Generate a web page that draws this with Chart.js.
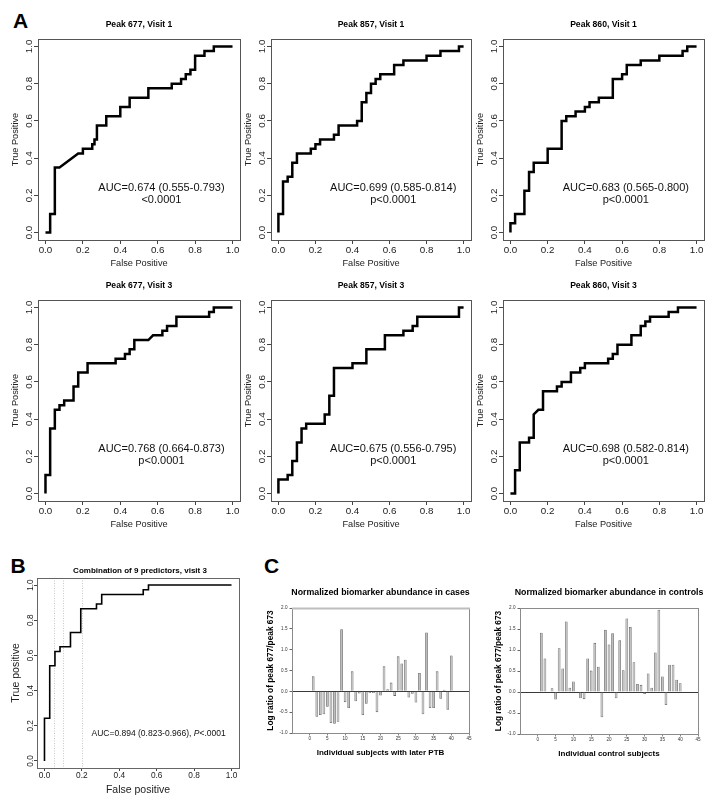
<!DOCTYPE html>
<html>
<head>
<meta charset="utf-8">
<script src="https://cdn.jsdelivr.net/npm/chart.js@4/dist/chart.umd.min.js"></script>
<style>
html,body{margin:0;padding:0;background:#fff;}
body{width:715px;height:806px;position:relative;overflow:hidden;font-family:"Liberation Sans",Arial,Helvetica,sans-serif;}
canvas{position:absolute;}
.lbl{position:absolute;font-weight:bold;font-size:21px;line-height:1;color:#000;}
</style>
</head>
<body>
<div class="lbl" style="left:13px;top:9.5px">A</div>
<div class="lbl" style="left:10.5px;top:555px">B</div>
<div class="lbl" style="left:264px;top:555px">C</div>
<script>
// ================= DATA =================
const rocTicks = [0, 0.2, 0.4, 0.6, 0.8, 1.0];

// Panel A: ROC stair paths (false positive / true positive vertices)
const p677v1Fpr = [0,0.025,0.025,0.05,0.05,0.075,0.175,0.2,0.2,0.25,0.25,0.262,0.262,0.275,0.275,0.325,0.325,0.4,0.4,0.45,0.45,0.55,0.55,0.675,0.675,0.725,0.725,0.75,0.75,0.775,0.775,0.8,0.8,0.85,0.85,0.9,0.9,1.0];
const p677v1Tpr = [0,0,0.1,0.1,0.35,0.35,0.425,0.425,0.45,0.45,0.475,0.475,0.5,0.5,0.575,0.575,0.625,0.625,0.675,0.675,0.725,0.725,0.775,0.775,0.8,0.8,0.825,0.825,0.85,0.85,0.875,0.875,0.95,0.95,0.975,0.975,1.0,1.0];

const p857v1Fpr = [0,0,0.025,0.025,0.05,0.05,0.075,0.075,0.1,0.1,0.175,0.175,0.2,0.2,0.225,0.225,0.3,0.3,0.325,0.325,0.425,0.425,0.45,0.45,0.475,0.475,0.5,0.5,0.525,0.525,0.55,0.55,0.625,0.625,0.675,0.675,0.8,0.8,0.875,0.875,0.975,0.975,1.0];
const p857v1Tpr = [0,0.1,0.1,0.275,0.275,0.3,0.3,0.375,0.375,0.425,0.425,0.45,0.45,0.475,0.475,0.5,0.5,0.525,0.525,0.575,0.575,0.6,0.6,0.7,0.7,0.75,0.75,0.8,0.8,0.825,0.825,0.85,0.85,0.9,0.9,0.925,0.925,0.95,0.95,0.975,0.975,1.0,1.0];

const p860v1Fpr = [0,0,0.025,0.025,0.075,0.075,0.1,0.1,0.125,0.125,0.2,0.2,0.275,0.275,0.3,0.3,0.35,0.35,0.4,0.4,0.425,0.425,0.475,0.475,0.55,0.55,0.6,0.6,0.625,0.625,0.7,0.7,0.8,0.8,0.925,0.925,0.95,0.95,1.0];
const p860v1Tpr = [0,0.05,0.05,0.1,0.1,0.225,0.225,0.325,0.325,0.375,0.375,0.45,0.45,0.6,0.6,0.625,0.625,0.65,0.65,0.675,0.675,0.7,0.7,0.725,0.725,0.825,0.825,0.85,0.85,0.9,0.9,0.925,0.925,0.95,0.95,0.975,0.975,1.0,1.0];

const p677v3Fpr = [0,0,0.025,0.025,0.05,0.05,0.075,0.075,0.1,0.1,0.15,0.15,0.175,0.175,0.225,0.225,0.375,0.375,0.425,0.425,0.45,0.45,0.475,0.475,0.55,0.575,0.625,0.625,0.65,0.65,0.7,0.7,0.875,0.875,0.9,0.9,1.0];
const p677v3Tpr = [0,0.1,0.1,0.35,0.35,0.45,0.45,0.475,0.475,0.5,0.5,0.575,0.575,0.65,0.65,0.7,0.7,0.725,0.725,0.75,0.75,0.775,0.775,0.825,0.825,0.85,0.85,0.875,0.875,0.9,0.9,0.95,0.95,0.975,0.975,1.0,1.0];

const p857v3Fpr = [0,0,0.05,0.05,0.075,0.075,0.1,0.1,0.125,0.125,0.15,0.15,0.25,0.25,0.275,0.275,0.3,0.3,0.4,0.4,0.475,0.475,0.575,0.575,0.675,0.675,0.725,0.725,0.75,0.75,0.975,0.975,1.0];
const p857v3Tpr = [0,0.075,0.075,0.1,0.1,0.175,0.175,0.275,0.275,0.35,0.35,0.375,0.375,0.425,0.425,0.525,0.525,0.675,0.675,0.7,0.7,0.775,0.775,0.85,0.85,0.875,0.875,0.9,0.9,0.95,0.95,1.0,1.0];

const p860v3Fpr = [0,0.025,0.025,0.05,0.05,0.1,0.1,0.125,0.125,0.15,0.175,0.175,0.25,0.25,0.275,0.275,0.325,0.325,0.375,0.375,0.4,0.4,0.525,0.525,0.55,0.55,0.575,0.575,0.65,0.65,0.7,0.7,0.725,0.725,0.75,0.75,0.85,0.85,0.9,0.9,1.0];
const p860v3Tpr = [0,0,0.125,0.125,0.275,0.275,0.3,0.3,0.425,0.45,0.45,0.55,0.55,0.575,0.575,0.6,0.6,0.65,0.65,0.675,0.675,0.7,0.7,0.725,0.725,0.75,0.75,0.8,0.8,0.85,0.85,0.9,0.9,0.925,0.925,0.95,0.95,0.975,0.975,1.0,1.0];

// Panel B: combination of 9 predictors
const comboFpr = [0,0,0.028,0.028,0.056,0.056,0.083,0.083,0.139,0.139,0.194,0.194,0.278,0.278,0.306,0.306,0.528,0.528,0.556,0.556,1.0];
const comboTpr = [0,0.243,0.243,0.541,0.541,0.622,0.622,0.649,0.649,0.73,0.73,0.865,0.865,0.892,0.892,0.946,0.946,0.973,0.973,1.0,1.0];
const comboGuides = [0.05, 0.1, 0.2];

// Panel C: log ratio of peak 677 / peak 673 per subject
const subjects = [1,2,3,4,5,6,7,8,9,10,11,12,13,14,15,16,17,18,19,20,21,22,23,24,25,26,27,28,29,30,31,32,33,34,35,36,37,38,39,40];
const casesRatio = [0.36,-0.61,-0.57,-0.55,-0.37,-0.76,-0.78,-0.73,1.49,-0.26,-0.40,0.48,-0.24,-0.05,-0.57,-0.30,-0.04,-0.04,-0.50,-0.10,0.60,0.05,0.21,-0.11,0.84,0.67,0.76,-0.15,-0.06,-0.27,0.44,-0.55,1.41,-0.40,-0.40,0.48,-0.18,0.04,-0.44,0.86];
const controlsRatio = [1.41,0.80,null,0.09,-0.18,1.04,0.56,1.68,0.10,0.25,null,-0.15,-0.17,0.80,0.51,1.17,0.60,-0.60,1.48,1.13,1.40,-0.15,1.23,0.52,1.75,1.55,0.71,0.19,0.17,-0.05,0.44,0.10,0.94,1.96,0.37,-0.31,0.65,0.65,0.29,0.21];
const barXTicks = [0,5,10,15,20,25,30,35,40,45];

// ================= HELPERS =================
const FONT = '"Liberation Sans", Arial, Helvetica, sans-serif';
function zip(xs, ys) { return xs.map((x, i) => ({x: x, y: ys[i]})); }
function place(box, m) {
  const c = document.createElement('canvas');
  const w = box[2] - box[0] + m.l + m.r, h = box[3] - box[1] + m.t + m.b;
  c.width = w; c.height = h;
  c.style.left = (box[0] - m.l) + 'px'; c.style.top = (box[1] - m.t) + 'px';
  c.style.width = w + 'px'; c.style.height = h + 'px';
  document.body.appendChild(c);
  return c;
}
function drawText(ctx, txt, x, y, font, color, rot) {
  ctx.save();
  ctx.font = font; ctx.fillStyle = color || '#000';
  ctx.textAlign = 'center'; ctx.textBaseline = 'middle';
  ctx.translate(x, y);
  if (rot) ctx.rotate(rot);
  ctx.fillText(txt, 0, 0);
  ctx.restore();
}
function drawRuns(ctx, runs, cx, y, color) {
  ctx.save();
  ctx.fillStyle = color; ctx.textBaseline = 'middle'; ctx.textAlign = 'left';
  let total = 0;
  runs.forEach(r => { ctx.font = r[1]; total += ctx.measureText(r[0]).width; });
  let x = cx - total / 2;
  runs.forEach(r => { ctx.font = r[1]; ctx.fillText(r[0], x, y); x += ctx.measureText(r[0]).width; });
  ctx.restore();
}

const decoPlugin = {
  id: 'deco',
  beforeDatasetsDraw(chart, args, o) {
    const ctx = chart.ctx, a = chart.chartArea;
    if (o.guides) {
      ctx.save();
      ctx.strokeStyle = o.guideColor; ctx.lineWidth = 1; ctx.setLineDash([1, 1.5]);
      o.guides.forEach(v => {
        const px = Math.round(chart.scales.x.getPixelForValue(v)) + 0.5;
        ctx.beginPath(); ctx.moveTo(px, a.top); ctx.lineTo(px, a.bottom); ctx.stroke();
      });
      ctx.restore();
    }
  },
  afterDraw(chart, args, o) {
    const ctx = chart.ctx, a = chart.chartArea;
    const cx = (a.left + a.right) / 2, cy = (a.top + a.bottom) / 2;
    ctx.save();
    ctx.strokeStyle = o.boxColor; ctx.lineWidth = o.boxWidth;
    ctx.strokeRect(a.left + 0.5, a.top + 0.5, a.right - a.left, a.bottom - a.top);
    if (o.topColor) {
      ctx.strokeStyle = o.topColor; ctx.lineWidth = o.topWidth;
      ctx.beginPath(); ctx.moveTo(a.left, a.top + 0.5); ctx.lineTo(a.right + 1, a.top + 0.5); ctx.stroke();
    }
    ctx.restore();
    drawText(ctx, o.title, cx + (o.titleDx || 0), a.top + o.titleDy, o.titleFont, '#000');
    drawText(ctx, o.xTitle, cx + (o.xTitleDx || 0), a.bottom + o.xTitleDy, o.xTitleFont, o.textColor);
    drawText(ctx, o.yTitle, a.left + o.yTitleDx, cy, o.yTitleFont, o.textColor, -Math.PI / 2);
    if (o.rotYTicks) {
      const ys = chart.scales.y;
      ys.ticks.forEach(t => {
        drawText(ctx, Number(t.value).toFixed(1), a.left + o.yTickDx, ys.getPixelForValue(t.value), o.yTickFont, o.textColor, -Math.PI / 2);
      });
    }
    if (o.auc) {
      const px = chart.scales.x.getPixelForValue(o.aucX);
      const py = chart.scales.y.getPixelForValue(o.aucY);
      o.auc.forEach((line, i) => drawRuns(ctx, line, px, py + i * o.aucGap, o.aucColor));
    }
  }
};

// ================= ROC PANELS =================
const styleA = {
  m: {l: 32, t: 24, r: 10, b: 32}, lineWidth: 2.5, tick: 4, tickPad: 0, tickSize: 9.8,
  deco: {
    boxColor: '#555', boxWidth: 1, textColor: '#222',
    titleDy: -14.5, titleFont: 'bold 8.6px ' + FONT,
    xTitle: 'False Positive', xTitleDy: 23.5, xTitleFont: '9.2px ' + FONT,
    yTitle: 'True Positive', yTitleDx: -22.5, yTitleFont: '9.2px ' + FONT,
    rotYTicks: true, yTickDx: -8.8, yTickFont: '9.8px ' + FONT,
    aucX: 0.62, aucY: 0.24, aucGap: 12.5, aucColor: '#111'
  }
};
const styleB = {
  m: {l: 32, t: 16, r: 6, b: 34}, lineWidth: 1.6, tick: 3, tickPad: 0, tickSize: 8.3,
  deco: {
    boxColor: '#666', boxWidth: 1, textColor: '#222',
    titleDy: -7.7, titleDx: 2, titleFont: 'bold 8px ' + FONT,
    xTitle: 'False positive', xTitleDy: 22, xTitleFont: '10.5px ' + FONT,
    yTitle: 'True positive', yTitleDx: -20.6, yTitleFont: '10.5px ' + FONT,
    rotYTicks: true, yTickDx: -6.3, yTickFont: '8.3px ' + FONT,
    aucX: 0.61, aucY: 0.155, aucGap: 0, aucColor: '#111',
    guides: comboGuides, guideColor: '#c8c8c8'
  }
};

const aucFontA = '11px ' + FONT;
const rocPanels = [
  {box: [38, 39, 240, 240], title: 'Peak 677, Visit 1', fpr: p677v1Fpr, tpr: p677v1Tpr, auc: ['AUC=0.674 (0.555-0.793)', '<0.0001']},
  {box: [271, 39, 471, 240], title: 'Peak 857, Visit 1', fpr: p857v1Fpr, tpr: p857v1Tpr, auc: ['AUC=0.699 (0.585-0.814)', 'p<0.0001']},
  {box: [503, 39, 704, 240], title: 'Peak 860, Visit 1', fpr: p860v1Fpr, tpr: p860v1Tpr, auc: ['AUC=0.683 (0.565-0.800)', 'p<0.0001']},
  {box: [38, 300, 240, 501], title: 'Peak 677, Visit 3', fpr: p677v3Fpr, tpr: p677v3Tpr, auc: ['AUC=0.768 (0.664-0.873)', 'p<0.0001']},
  {box: [271, 300, 471, 501], title: 'Peak 857, Visit 3', fpr: p857v3Fpr, tpr: p857v3Tpr, auc: ['AUC=0.675 (0.556-0.795)', 'p<0.0001']},
  {box: [503, 300, 704, 501], title: 'Peak 860, Visit 3', fpr: p860v3Fpr, tpr: p860v3Tpr, auc: ['AUC=0.698 (0.582-0.814)', 'p<0.0001']}
];

function rocChart(box, title, fpr, tpr, aucRuns, st) {
  const m = st.m;
  const c = place(box, m);
  const axisTicks = s => { s.ticks = rocTicks.map(v => ({value: v})); };
  new Chart(c, {
    type: 'scatter',
    data: {datasets: [{data: zip(fpr, tpr), showLine: true, borderColor: '#000', backgroundColor: '#000',
      borderWidth: st.lineWidth, pointRadius: 0, pointHoverRadius: 0, tension: 0, fill: false,
      borderJoinStyle: 'miter', borderCapStyle: 'butt'}]},
    options: {
      responsive: false, animation: false, devicePixelRatio: 1, events: [],
      layout: {padding: {top: m.t, right: m.r, left: 0, bottom: 0}},
      plugins: {legend: {display: false}, tooltip: {enabled: false},
        deco: Object.assign({}, st.deco, {title: title, auc: aucRuns})},
      scales: {
        x: {type: 'linear', min: -0.04, max: 1.04, afterBuildTicks: axisTicks, afterFit: s => { s.height = m.b; },
          grid: {drawOnChartArea: false, drawTicks: true, tickLength: st.tick, color: '#444', lineWidth: 1},
          border: {display: false},
          ticks: {color: '#222', font: {family: FONT, size: st.tickSize}, padding: st.tickPad, maxRotation: 0, minRotation: 0, autoSkip: false,
            callback: v => Number(v).toFixed(1)}},
        y: {type: 'linear', min: -0.04, max: 1.04, afterBuildTicks: axisTicks, afterFit: s => { s.width = m.l; },
          grid: {drawOnChartArea: false, drawTicks: true, tickLength: st.tick, color: '#444', lineWidth: 1},
          border: {display: false},
          ticks: {display: false}}
      }
    },
    plugins: [decoPlugin]
  });
}

rocPanels.forEach(p => {
  rocChart(p.box, p.title, p.fpr, p.tpr, p.auc.map(t => [[t, aucFontA]]), styleA);
});
rocChart([37, 578, 239, 768], 'Combination of 9 predictors, visit 3', comboFpr, comboTpr,
  [[['AUC=0.894 (0.823-0.966), ', '8.5px ' + FONT], ['P', 'italic 8.5px ' + FONT], ['<.0001', '8.5px ' + FONT]]], styleB);

// ================= BAR PANELS =================
function barChart(box, title, xTitle, values, extra) {
  const m = {l: 30, t: 22, r: 8, b: 26};
  const c = place(box, m);
  new Chart(c, {
    type: 'bar',
    data: {datasets: [{data: zip(subjects, values), backgroundColor: '#bdbdbd', borderColor: '#666', borderWidth: 0.8,
      barPercentage: 0.8, categoryPercentage: 0.95}]},
    options: {
      responsive: false, animation: false, devicePixelRatio: 1, events: [],
      layout: {padding: {top: m.t, right: m.r, left: 0, bottom: 0}},
      plugins: {legend: {display: false}, tooltip: {enabled: false},
        deco: Object.assign({
          boxColor: '#8a8a8a', boxWidth: 1, textColor: '#000',
          title: title, titleDy: -15.5, titleFont: 'bold 8.8px ' + FONT,
          xTitle: xTitle, xTitleDy: 19.3, xTitleFont: 'bold 8px ' + FONT,
          yTitle: 'Log ratio of peak 677/peak 673', yTitleDx: -21.3, yTitleFont: 'bold 8.3px ' + FONT
        }, extra)},
      scales: {
        x: {type: 'linear', min: -5, max: 45, offset: false,
          afterBuildTicks: s => { s.ticks = barXTicks.map(v => ({value: v})); }, afterFit: s => { s.height = m.b; },
          grid: {offset: false, drawOnChartArea: false, drawTicks: true, tickLength: 2.5, color: '#666', lineWidth: 0.8},
          border: {display: false},
          ticks: {color: '#333', font: {family: FONT, size: 4.6}, padding: 0.8, maxRotation: 0, minRotation: 0, autoSkip: false}},
        y: {type: 'linear', min: -1, max: 2, afterFit: s => { s.width = m.l; },
          grid: {drawOnChartArea: true, drawTicks: true, tickLength: 2.5, lineWidth: 1,
            color: ctx => (ctx.tick && ctx.tick.value === 0) ? '#3a3a3a' : 'rgba(0,0,0,0)', tickColor: '#666'},
          border: {display: false},
          ticks: {stepSize: 0.5, color: '#333', font: {family: FONT, size: 4.6}, padding: 2, callback: v => Number(v).toFixed(1)}}
      }
    },
    plugins: [decoPlugin]
  });
}

barChart([292, 608, 469, 733], 'Normalized biomarker abundance in cases', 'Individual subjects with later PTB', casesRatio,
  {topColor: '#bdbdbd', topWidth: 2});
barChart([520, 608, 698, 734], 'Normalized biomarker abundance in controls', 'Individual control subjects', controlsRatio, {});
</script>
</body>
</html>
